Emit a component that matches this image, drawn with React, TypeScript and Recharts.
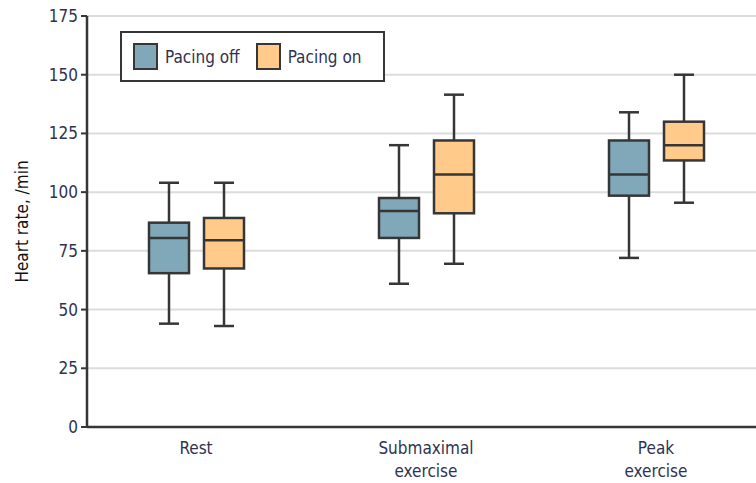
import React from 'react';
import {
  ComposedChart,
  Bar,
  XAxis,
  YAxis,
  CartesianGrid,
} from 'recharts';

const categories = ['Rest', 'Submaximal\nexercise', 'Peak\nexercise'];

// Pacing off
const offMin = [44, 61, 72];
const offQ1 = [65.5, 80.5, 98.5];
const offMedian = [80.5, 92, 107.5];
const offQ3 = [87, 97.5, 122];
const offMax = [104, 120, 134];

// Pacing on
const onMin = [43, 69.5, 95.5];
const onQ1 = [67.5, 91, 113.5];
const onMedian = [79.5, 107.5, 120];
const onQ3 = [89, 122, 130];
const onMax = [104, 141.5, 150];

const yTicks = [0, 25, 50, 75, 100, 125, 150, 175];

const OFF_COLOR = '#80a8b8';
const ON_COLOR = '#ffca8a';
const INK = '#363636';
const FONT = "'DejaVu Sans Condensed', 'DejaVu Sans', sans-serif";

const data = categories.map((name, i) => ({
  name,
  off: { min: offMin[i], q1: offQ1[i], med: offMedian[i], q3: offQ3[i], max: offMax[i] },
  on: { min: onMin[i], q1: onQ1[i], med: onMedian[i], q3: onQ3[i], max: onMax[i] },
}));

const makeBox = (key: 'off' | 'on', fill: string) => (props: any) => {
  const { x, y, width, height, payload } = props;
  const s = payload[key];
  const top = Math.min(y, y + height);
  const h = Math.abs(height);
  const k = h / (s.max - s.min);
  const py = (v: number) => top + (s.max - v) * k;
  const cx = x + width / 2;
  const cap = 10;
  return (
    <g stroke={INK} strokeWidth={2.5}>
      <line x1={cx} x2={cx} y1={py(s.max)} y2={py(s.q3)} />
      <line x1={cx} x2={cx} y1={py(s.q1)} y2={py(s.min)} />
      <line x1={cx - cap} x2={cx + cap} y1={py(s.max)} y2={py(s.max)} />
      <line x1={cx - cap} x2={cx + cap} y1={py(s.min)} y2={py(s.min)} />
      <rect x={x} y={py(s.q3)} width={width} height={py(s.q1) - py(s.q3)} fill={fill} />
      <line x1={x} x2={x + width} y1={py(s.med)} y2={py(s.med)} />
    </g>
  );
};

const CategoryTick = (props: any) => {
  const { x, y, payload } = props;
  const lines = String(payload.value).split('\n');
  return (
    <text x={x} y={y} textAnchor="middle" fill="#2f3350" fontSize={17} fontFamily={FONT}>
      {lines.map((l, i) => (
        <tspan key={i} x={x} dy={i === 0 ? 19 : 23}>
          {l}
        </tspan>
      ))}
    </text>
  );
};

const LegendBox = () => (
  <div
    style={{
      position: 'absolute',
      left: 120,
      top: 31,
      border: `2px solid ${INK}`,
      width: 261,
      height: 47,
      display: 'flex',
      alignItems: 'center',
      background: '#fff',
      fontFamily: FONT,
      fontSize: 17,
      color: '#2f3350',
    }}
  >
    {[
      ['Pacing off', OFF_COLOR],
      ['Pacing on', ON_COLOR],
    ].map(([label, c], i) => (
      <div key={label} style={{ display: 'flex', alignItems: 'center', marginLeft: i === 0 ? 11 : 16 }}>
        <span
          style={{
            display: 'inline-block',
            width: 21,
            height: 23,
            background: c,
            border: `2px solid ${INK}`,
            marginRight: 7,
          }}
        />
        <span>{label}</span>
      </div>
    ))}
  </div>
);

export default function App() {
  return (
    <div style={{ position: 'absolute', left: 0, top: 0, width: 756, height: 483, overflow: 'hidden', background: '#fff' }}>
      <ComposedChart
        width={800}
        height={483}
        data={data}
        margin={{ top: 16, right: 23, left: 0, bottom: 0 }}
        barGap={15}
      >
        <CartesianGrid vertical={false} stroke="#dcdcdc" strokeWidth={2} />
        <XAxis
          dataKey="name"
          height={56}
          padding={{ left: -6, right: 6 }}
          axisLine={{ stroke: INK, strokeWidth: 2.5 }}
          tickLine={false}
          tick={<CategoryTick />}
          interval={0}
        />
        <YAxis
          width={87}
          domain={[0, 175]}
          ticks={yTicks}
          interval={0}
          axisLine={{ stroke: INK, strokeWidth: 2.5 }}
          tickLine={{ stroke: INK, strokeWidth: 2 }}
          tickSize={6}
          tickMargin={3}
          tick={{ fill: '#2f3350', fontSize: 17, fontFamily: FONT }}
          label={{
            value: 'Heart rate, /min',
            angle: -90,
            position: 'insideLeft',
            offset: 22,
            style: { textAnchor: 'middle', fill: '#111', fontSize: 17, fontFamily: FONT },
          }}
        />
        <Bar
          dataKey={(d: any) => [d.off.min, d.off.max]}
          barSize={40}
          shape={makeBox('off', OFF_COLOR)}
          isAnimationActive={false}
        />
        <Bar
          dataKey={(d: any) => [d.on.min, d.on.max]}
          barSize={40}
          shape={makeBox('on', ON_COLOR)}
          isAnimationActive={false}
        />
      </ComposedChart>
      <LegendBox />
    </div>
  );
}
